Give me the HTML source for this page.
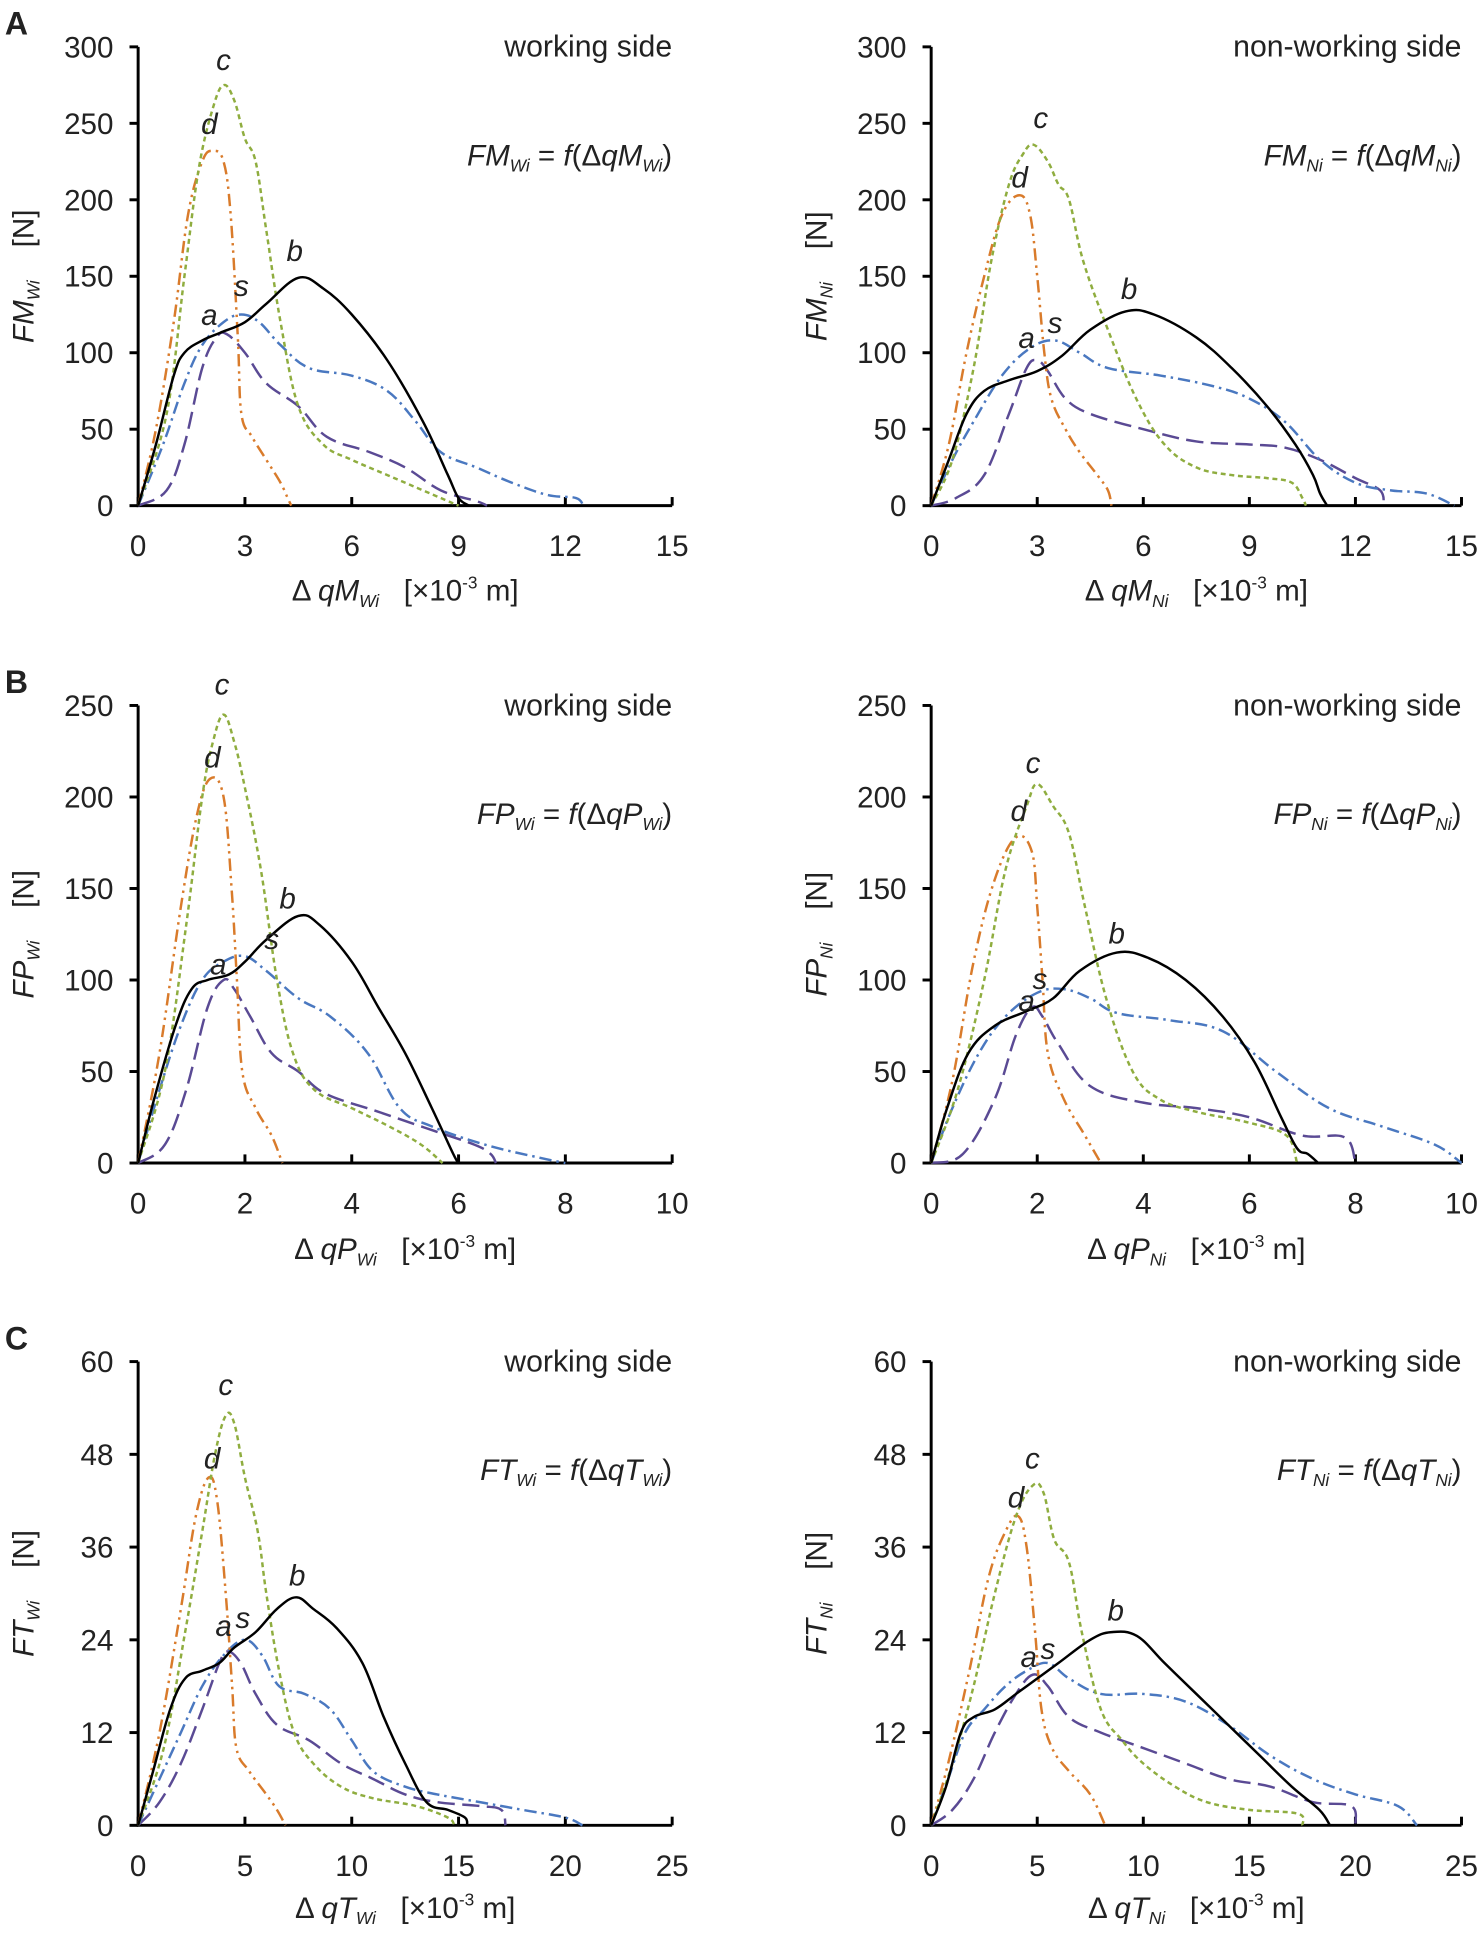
<!DOCTYPE html>
<html><head><meta charset="utf-8"><style>
html,body{margin:0;padding:0;background:#fff}
svg{display:block}
text{font-family:"Liberation Sans",Arial,sans-serif;fill:#222}
</style></head><body>
<svg id="fig" xmlns="http://www.w3.org/2000/svg" width="1480" height="1933" viewBox="0 0 1200 1567.3"></svg>
<script>
// ---- Data (x in ×10^-3 m, y in N) ----
const A_L_b=[[0,0],[0.5,40],[1,85],[1.3,100],[1.8,108],[2.3,113],[3,120],[3.6,132],[4.5,149],[5.2,142],[6,125],[7,95],[8,55],[8.7,20],[9,5],[9.3,0]];
const A_L_c=[[0,0],[0.8,60],[1.3,150],[1.7,220],[2.1,260],[2.4,275],[2.7,265],[3,240],[3.3,225],[3.6,180],[4,120],[4.5,65],[5.2,40],[6,30],[7,20],[8,10],[8.8,2],[9,0]];
const A_L_d=[[0,0],[0.5,50],[1,120],[1.4,190],[1.8,225],[2.1,232],[2.4,225],[2.6,190],[2.8,110],[2.9,60],[3.2,45],[3.6,30],[4,15],[4.2,5],[4.3,0]];
const A_L_s=[[0,0],[0.7,40],[1.3,80],[1.8,105],[2.4,120],[2.9,125],[3.4,120],[4,105],[4.8,90],[6,85],[7,75],[7.8,55],[8.5,35],[9.5,25],[10.5,15],[11.5,7],[12.3,5],[12.5,0]];
const A_L_a=[[0,0],[0.8,10],[1.3,40],[1.8,90],[2.2,110],[2.5,112],[3,100],[3.6,80],[4.5,65],[5.3,45],[6.5,35],[7.5,25],[8.5,10],[9.5,3],[9.8,0]];
const A_R_b=[[0,0],[0.5,30],[1,60],[1.5,75],[2.2,82],[3,88],[3.7,98],[4.5,115],[5.5,127],[6.3,125],[7.5,110],[8.5,90],[9.5,65],[10.3,40],[10.8,20],[11,8],[11.2,0]];
const A_R_c=[[0,0],[0.6,30],[1.2,90],[1.7,160],[2.2,210],[2.6,230],[2.9,236],[3.3,225],[3.6,210],[3.9,200],[4.3,160],[5,115],[5.8,70],[6.6,40],[7.5,25],[8.5,20],[9.5,18],[10.2,15],[10.5,5],[10.6,0]];
const A_R_d=[[0,0],[0.5,40],[1,100],[1.5,150],[2,190],[2.5,203],[2.8,190],[3,150],[3.2,100],[3.4,70],[3.8,50],[4.2,35],[4.7,20],[5,10],[5.1,0]];
const A_R_s=[[0,0],[0.6,30],[1.2,55],[2,85],[2.8,103],[3.5,108],[4.2,100],[5,90],[6.5,85],[8,78],[9,70],[10,55],[11,30],[12,15],[13,10],[14,8],[14.8,0]];
const A_R_a=[[0,0],[0.7,5],[1.5,20],[2.2,60],[2.7,90],[3,95],[3.3,88],[3.8,70],[4.5,60],[6,50],[7.5,42],[9,40],[10,38],[11,30],[12,18],[12.7,10],[12.8,0]];
const B_L_b=[[0,0],[0.3,35],[0.7,75],[1,95],[1.3,100],[1.7,103],[2,110],[2.4,122],[3,135],[3.4,130],[4,110],[4.5,85],[5,60],[5.5,30],[5.9,5],[6,0]];
const B_L_c=[[0,0],[0.5,50],[0.9,130],[1.2,200],[1.4,230],[1.6,245],[1.8,230],[2,205],[2.3,160],[2.6,100],[2.9,60],[3.3,40],[4,30],[4.7,20],[5.3,10],[5.7,0]];
const B_L_d=[[0,0],[0.4,60],[0.8,140],[1.1,190],[1.35,210],[1.6,200],[1.75,150],[1.85,100],[1.95,50],[2.2,30],[2.5,15],[2.7,0]];
const B_L_s=[[0,0],[0.4,40],[0.8,75],[1.2,100],[1.6,110],[2,113],[2.4,105],[3,90],[3.6,80],[4.3,60],[4.9,30],[5.5,20],[6.5,10],[7.5,3],[8,0]];
const B_L_a=[[0,0],[0.5,10],[0.9,40],[1.3,85],[1.6,100],[1.8,95],[2.1,80],[2.5,60],[3,50],[3.5,38],[4.5,28],[5.5,18],[6.3,10],[6.6,5],[6.7,0]];
const B_R_b=[[0,0],[0.3,30],[0.7,60],[1.2,75],[1.8,83],[2.3,90],[2.8,105],[3.5,115],[4.1,112],[4.8,100],[5.5,80],[6.1,55],[6.6,25],[6.9,8],[7.1,5],[7.3,0]];
const B_R_c=[[0,0],[0.5,40],[1,100],[1.4,160],[1.8,195],[2,207],[2.3,195],[2.6,180],[2.9,140],[3.3,90],[3.8,50],[4.3,35],[5,28],[6,22],[6.7,15],[6.9,0]];
const B_R_d=[[0,0],[0.4,45],[0.8,110],[1.2,155],[1.6,178],[1.9,170],[2,140],[2.1,100],[2.2,60],[2.5,35],[2.9,15],[3.2,0]];
const B_R_s=[[0,0],[0.4,30],[0.9,60],[1.4,80],[2,93],[2.5,95],[3,90],[3.5,82],[4.5,78],[5.5,72],[6.5,50],[7.5,30],[8.5,20],[9.5,10],[10,0]];
const B_R_a=[[0,0],[0.6,5],[1.2,35],[1.6,70],[1.9,85],[2.1,80],[2.4,65],[3,42],[4,33],[5,30],[6,25],[7,15],[7.8,14],[8,0]];
const C_L_b=[[0,0],[0.7,7],[1.5,15],[2.2,19],[3,20],[3.8,21],[4.5,23],[5.5,25],[6.5,28],[7.4,29.5],[8.2,28],[9.3,25.5],[10.5,21],[11.5,14],[12.5,8],[13.5,3],[14.5,2],[15.3,1],[15.4,0]];
const C_L_c=[[0,0],[1.2,10],[2.2,25],[3,38],[3.6,48],[4.1,53],[4.5,52],[5,45],[5.6,38],[6,30],[6.6,20],[7.3,12],[8.2,8],[9.5,5],[11,3.5],[13,2.5],[14.5,1],[14.8,0]];
const C_L_d=[[0,0],[1,12],[2,28],[2.7,40],[3.3,45],[3.7,42],[4.1,30],[4.4,18],[4.6,10],[5.2,7],[6,4],[6.5,2],[6.9,0]];
const C_L_s=[[0,0],[1,6],[2,12],[3,18],[4,22],[5,24],[5.8,22],[6.6,18],[7.8,17],[9,15],[10,11],[11,7],[12.5,5],[14,4],[16,3],[18,2],[20,1],[20.8,0]];
const C_L_a=[[0,0],[1,3],[2,8],[3,15],[3.8,21],[4.2,22.5],[4.8,21],[5.5,17],[6.5,13],[8,11],[9.5,8],[11,6],[12.5,4],[14,3],[16,2.5],[17,2],[17.2,0]];
const C_R_b=[[0,0],[0.7,5],[1.4,12],[2,14],[3,15],[4,17],[5,19],[6,21],[7.5,24],[8.5,25],[9.7,24.5],[11,21],[12.5,17],[14,13],[15.5,9],[17,5],[18.3,2],[18.8,0]];
const C_R_c=[[0,0],[1,8],[2,18],[3,30],[4,40],[4.8,44],[5.3,43],[5.8,37],[6.5,34],[7.1,25],[8,15],[9,11],[10,8],[11.5,5],[13,3],[15,2],[17.3,1.5],[17.5,0]];
const C_R_d=[[0,0],[0.8,8],[1.8,20],[2.7,32],[3.5,38],[4.1,40],[4.5,36],[4.9,25],[5.2,15],[5.7,10],[6.5,7],[7.5,4],[8.2,0]];
const C_R_s=[[0,0],[0.8,6],[1.6,12],[2.5,15],[3.5,18],[4.5,20],[5.5,21],[6.5,19],[8,17],[10,17],[12,16],[14,13],[16,9],[18,6],[20,4],[22,2.5],[22.9,0]];
const C_R_a=[[0,0],[1,2],[2,6],[3,12],[4,17],[4.8,19.5],[5.5,18],[6.5,14],[8,12],[10,10],[12,8],[14,6],[16,5],[18,3],[19.8,2.5],[20,0]];
// curve label positions [letter, x, y]
const A_L_lab=[["c",2.4,285],["d",2.0,243],["b",4.4,160],["s",2.9,137],["a",2.0,118]];
const A_R_lab=[["c",3.1,247],["d",2.5,208],["b",5.6,135],["s",3.5,113],["a",2.7,103]];
const B_L_lab=[["c",1.57,256],["d",1.39,216],["b",2.8,139],["s",2.5,117],["a",1.5,103]];
const B_R_lab=[["c",1.92,213],["d",1.65,187],["b",3.5,120],["s",2.05,95],["a",1.8,83]];
const C_L_lab=[["c",4.1,55.7],["d",3.46,46.2],["b",7.45,31],["s",4.9,25.5],["a",4.0,24.5]];
const C_R_lab=[["c",4.77,46.2],["d",4.0,41.1],["b",8.7,26.5],["s",5.5,21.5],["a",4.6,20.5]];
// ticks
const A_xticks=[0,3,6,9,12,15], A_yticks=[0,50,100,150,200,250,300];
const B_xticks=[0,2,4,6,8,10], B_yticks=[0,50,100,150,200,250];
const C_xticks=[0,5,10,15,20,25], C_yticks=[0,12,24,36,48,60];

const NS="http://www.w3.org/2000/svg";
const svg=document.getElementById('fig');
function el(tag,attrs,parent){const e=document.createElementNS(NS,tag);for(const k in attrs)e.setAttribute(k,attrs[k]);(parent||svg).appendChild(e);return e;}
const styles={b:{c:"#000",d:"none"},c:{c:"#8fad3f",d:"4 3"},d:{c:"#d97b2b",d:"10 4 2 4 2 4"},s:{c:"#4a78c0",d:"10 4 2 4"},a:{c:"#5a4a94",d:"14 6"}};
function smooth(pts){let d="M"+pts[0][0]+","+pts[0][1];for(let i=0;i<pts.length-1;i++){const p0=pts[i-1]||pts[i],p1=pts[i],p2=pts[i+1],p3=pts[i+2]||p2;const t=0.18;d+=" C"+(p1[0]+(p2[0]-p0[0])*t)+","+(p1[1]+(p2[1]-p0[1])*t)+" "+(p2[0]-(p3[0]-p1[0])*t)+","+(p2[1]-(p3[1]-p1[1])*t)+" "+p2[0]+","+p2[1];}return d;}

function panel(cfg){
 const g=el('g',{});
 
 
 const X=v=>cfg.x0+(v-cfg.xmin)/(cfg.xmax-cfg.xmin)*(cfg.x1-cfg.x0);
 const Y=v=>cfg.y0-(v/cfg.ymax)*(cfg.y0-cfg.y1);
 const ax=el('path',{d:`M${cfg.x0},${cfg.y1}V${cfg.y0}H${cfg.x1}`,stroke:"#000","stroke-width":2.4,fill:"none"},g);
 
 cfg.yt.forEach(v=>{const y=Y(v);el('line',{x1:cfg.x0-7,x2:cfg.x0,y1:y,y2:y,stroke:"#000","stroke-width":2.4},g);
  const t=el('text',{x:cfg.x0-20,y:y+8.5,'font-size':24,'text-anchor':'end'},g);t.textContent=v;
  });
 cfg.xt.forEach(v=>{const x=X(v);el('line',{x1:x,x2:x,y1:cfg.y0-7,y2:cfg.y0,stroke:"#000","stroke-width":2.4},g);
  const t=el('text',{x:x,y:cfg.y0+41,'font-size':24,'text-anchor':'middle'},g);t.textContent=v;
  });
 ["a","s","d","c","b"].forEach(k=>{const st=styles[k];const pts=cfg.series[k].map(p=>[X(p[0]),Y(p[1])]);
  const p=el('path',{d:smooth(pts),stroke:st.c,"stroke-width":2,fill:"none","stroke-dasharray":st.d,"stroke-linejoin":"round"},g);
  });
 cfg.labs.forEach(l=>{const t=el('text',{x:X(l[1]),y:Y(l[2]),'font-size':24,'font-style':'italic','text-anchor':'middle'},g);t.textContent=l[0];
  });
 const st=el('text',{x:cfg.x1,y:cfg.y1+8,'font-size':24.5,'text-anchor':'end'},g);
 
 st.textContent=cfg.side;
 const ft=el('text',{x:cfg.x1,y:cfg.y1+96,'font-size':24,'text-anchor':'end'},g);
 
 ft.innerHTML=cfg.formula;
 const yt=el('text',{transform:`translate(${cfg.x0-85},${(cfg.y0+cfg.y1)/2}) rotate(-90)`,'font-size':24,'text-anchor':'middle'},g);
 
 yt.innerHTML=cfg.ytitle;
 const xt=el('text',{x:(cfg.x0+cfg.x1)/2,y:cfg.y0+cfg.xtOff,'font-size':24,'text-anchor':'middle'},g);
 
 xt.innerHTML=cfg.xtitle;
}
function yT(L,side){return `<tspan font-style="italic">F${L}</tspan><tspan font-style="italic" font-size="14" dy="5">${side}</tspan><tspan dy="-5" xml:space="preserve">    [N]</tspan>`;}
function xT(L,side){return `Δ <tspan font-style="italic">q${L}</tspan><tspan font-style="italic" font-size="14" dy="5">${side}</tspan><tspan dy="-5" xml:space="preserve">   [×10</tspan><tspan font-size="14" dy="-10">-3</tspan><tspan dy="10"> m]</tspan>`;}
function fT(L,side){return `<tspan font-style="italic">F${L}</tspan><tspan font-style="italic" font-size="14" dy="5">${side}</tspan><tspan dy="-5"> = </tspan><tspan font-style="italic">f</tspan>(Δ<tspan font-style="italic">q${L}</tspan><tspan font-style="italic" font-size="14" dy="5">${side}</tspan><tspan dy="-5">)</tspan>`;}

const rows=[{k:"A",L:"M",y0:410,y1:38,off:77,xmax:15,ymax:300,xt:A_xticks,yt:A_yticks,d:{L:[A_L_b,A_L_c,A_L_d,A_L_s,A_L_a,A_L_lab],R:[A_R_b,A_R_c,A_R_d,A_R_s,A_R_a,A_R_lab]}},
 {k:"B",L:"P",y0:943,y1:572,off:78,xmax:10,ymax:250,xt:B_xticks,yt:B_yticks,d:{L:[B_L_b,B_L_c,B_L_d,B_L_s,B_L_a,B_L_lab],R:[B_R_b,B_R_c,B_R_d,B_R_s,B_R_a,B_R_lab]}},
 {k:"C",L:"T",y0:1480,y1:1104,off:75,xmax:25,ymax:60,xt:C_xticks,yt:C_yticks,d:{L:[C_L_b,C_L_c,C_L_d,C_L_s,C_L_a,C_L_lab],R:[C_R_b,C_R_c,C_R_d,C_R_s,C_R_a,C_R_lab]}}];
rows.forEach(r=>{
 const pl=el('text',{x:4,y:r.y1-10,'font-size':26,'font-weight':'bold'});pl.textContent=r.k;
 
 [["L",112,545,"Wi","working side"],["R",755,1185,"Ni","non-working side"]].forEach(s=>{
  const dd=r.d[s[0]];
  panel({name:'panel-'+r.k+'-'+s[0],x0:s[1],x1:s[2],xmin:0,xmax:r.xmax,y0:r.y0,y1:r.y1,ymax:r.ymax,xt:r.xt,yt:r.yt,xtOff:r.off,
   series:{b:dd[0],c:dd[1],d:dd[2],s:dd[3],a:dd[4]},labs:dd[5],side:s[4],formula:fT(r.L,s[3]),ytitle:yT(r.L,s[3]),xtitle:xT(r.L,s[3])});
 });
});
</script>
</body></html>
